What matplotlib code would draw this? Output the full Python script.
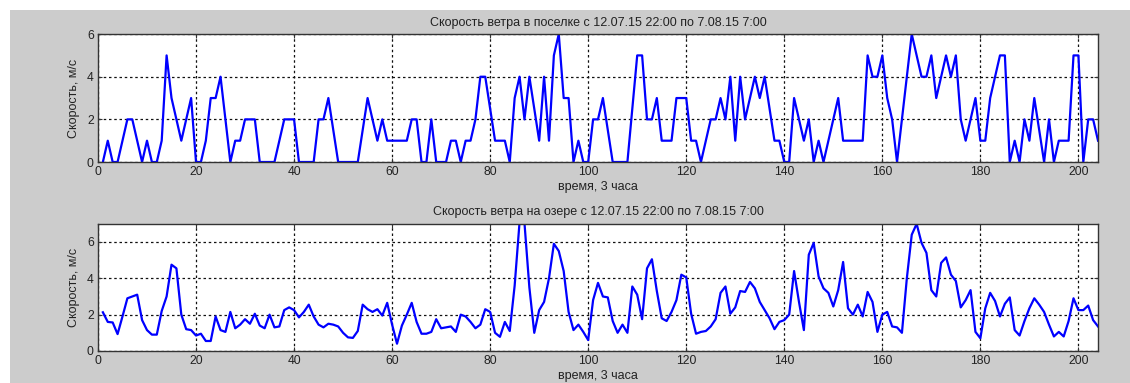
import matplotlib.pyplot as plt
import matplotlib.patches as patches
import numpy as np

plt.rcParams['font.family'] = ['Liberation Sans', 'DejaVu Sans']

# wind speed in the village, m/s (one value per 3 hours)
villageSpeed = [
    0, 1, 0, 0, 1, 2, 2, 1, 0, 1,
    0, 0, 1, 5, 3, 2, 1, 2, 3, 0,
    0, 1, 3, 3, 4, 2, 0, 1, 1, 2,
    2, 2, 0, 0, 0, 0, 1, 2, 2, 2,
    0, 0, 0, 0, 2, 2, 3, 1.5, 0, 0,
    0, 0, 0, 1.5, 3, 2, 1, 2, 1, 1,
    1, 1, 1, 2, 2, 0, 0, 2, 0, 0,
    0, 1, 1, 0, 1, 1, 2, 4, 4, 2.5,
    1, 1, 1, 0, 3, 4, 2, 4, 2.5, 1,
    4, 1, 5, 6, 3, 3, 0, 1, 0, 0,
    2, 2, 3, 1.5, 0, 0, 0, 0, 2.5, 5,
    5, 2, 2, 3, 1, 1, 1, 3, 3, 3,
    1, 1, 0, 1, 2, 2, 3, 2, 4, 1,
    4, 2, 3, 4, 3, 4, 2.5, 1, 1, 0,
    0, 3, 2, 1, 2, 0, 1, 0, 1, 2,
    3, 1, 1, 1, 1, 1, 5, 4, 4, 5,
    3, 2, 0, 2, 4, 6, 5, 4, 4, 5,
    3, 4, 5, 4, 5, 2, 1, 2, 3, 1,
    1, 3, 4, 5, 5, 0, 1, 0, 2, 1,
    3, 1.5, 0, 2, 0, 1, 1, 1, 5, 5,
    0, 2, 2, 1,
]

# wind speed on the lake, m/s
lakeSpeed = [
    2.13, 1.6, 1.57, 0.93, 1.9, 2.9, 3.0, 3.1, 1.7, 1.15,
    0.9, 0.9, 2.2, 3.0, 4.75, 4.55, 2.0, 1.2, 1.15, 0.85,
    0.95, 0.55, 0.55, 1.9, 1.15, 1.05, 2.15, 1.25, 1.45, 1.75,
    1.5, 2.05, 1.4, 1.25, 2.0, 1.3, 1.35, 2.25, 2.4, 2.25,
    1.85, 2.15, 2.55, 1.9, 1.45, 1.3, 1.5, 1.45, 1.35, 1.0,
    0.75, 0.72, 1.1, 2.55, 2.3, 2.15, 2.3, 1.95, 2.65, 1.45,
    0.4, 1.4, 2.0, 2.65, 1.6, 0.95, 0.95, 1.05, 1.75, 1.25,
    1.3, 1.35, 1.05, 2.0, 1.9, 1.6, 1.25, 1.45, 2.3, 2.15,
    1.0, 0.78, 1.6, 1.1, 3.6, 7.1, 7.05, 3.5, 1.0, 2.25,
    2.7, 4.0, 5.9, 5.5, 4.4, 2.15, 1.15, 1.45, 1.05, 0.6,
    2.8, 3.75, 3.0, 2.95, 1.65, 1.0, 1.45, 1.0, 3.55, 3.1,
    1.75, 4.55, 5.05, 3.3, 1.8, 1.65, 2.15, 2.8, 4.2, 4.05,
    2.05, 0.95, 1.05, 1.1, 1.35, 1.75, 3.2, 3.55, 2.05, 2.4,
    3.3, 3.25, 3.8, 3.45, 2.7, 2.25, 1.8, 1.2, 1.6, 1.7,
    2.0, 4.4, 2.7, 1.15, 5.3, 5.95, 4.1, 3.45, 3.2, 2.45,
    3.35, 4.9, 2.35, 2.0, 2.55, 1.9, 3.25, 2.7, 1.05, 2.0,
    2.15, 1.35, 1.3, 1.0, 4.0, 6.4, 7.0, 5.95, 5.4, 3.35,
    3.0, 4.85, 5.15, 4.2, 3.85, 2.4, 2.8, 3.35, 1.05, 0.7,
    2.35, 3.2, 2.75, 1.9, 2.6, 2.95, 1.15, 0.85, 1.65, 2.35,
    2.9, 2.55, 2.15, 1.45, 0.8, 1.05, 0.8, 1.65, 2.9, 2.25,
    2.25, 2.5, 1.7, 1.35,
]

titleVillage = 'Скорость ветра в поселке с 12.07.15 22:00 по 7.08.15 7:00'
titleLake = 'Скорость ветра на озере с 12.07.15 22:00 по 7.08.15 7:00'
xLabel = 'время, 3 часа'
yLabel = 'Скорость, м/с'
xTicks = [0, 20, 40, 60, 80, 100, 120, 140, 160, 180, 200]
yTicks = [0, 2, 4, 6]

textColor = '#222222'


def plotSpeed(ax, data, title, yMax):
    x = np.arange(1, len(data) + 1)
    ax.plot(x, data, color='#0000ff', linewidth=1.6, solid_joinstyle='round')
    ax.set_xlim(0, 204)
    ax.set_ylim(0, yMax)
    ax.set_xticks(xTicks)
    ax.set_yticks(yTicks)
    ax.grid(True, color='#111111', linestyle=(0, (2, 2.2)), linewidth=0.9)
    ax.tick_params(direction='in', top=True, right=True, length=3,
                   labelsize=8.7, colors='#333333', labelcolor=textColor, pad=3)
    for s in ax.spines.values():
        s.set_color('#333333')
        s.set_linewidth(1.0)
    ax.set_title(title, fontsize=9, color=textColor, pad=6)
    ax.set_xlabel(xLabel, fontsize=9, color=textColor, labelpad=2)
    ax.set_ylabel(yLabel, fontsize=9, color=textColor, labelpad=5)


def main():
    fig = plt.figure(figsize=(11.3, 3.83), dpi=100)
    fig.patch.set_facecolor('white')
    # grey window area of the screenshot
    fig.patches.append(patches.Rectangle((10 / 1130, 0), 1, 1 - 10 / 383,
                                         transform=fig.transFigure,
                                         facecolor='#cccccc', edgecolor='none',
                                         zorder=-10))

    axTop = fig.add_axes([0.0867, 0.577, 0.885, 0.334])
    axBottom = fig.add_axes([0.0867, 0.0836, 0.885, 0.332])

    plotSpeed(axTop, villageSpeed, titleVillage, 6)
    plotSpeed(axBottom, lakeSpeed, titleLake, 7)

    fig.savefig('out.png', dpi=100)
    plt.close(fig)


if __name__ == '__main__':
    main()
